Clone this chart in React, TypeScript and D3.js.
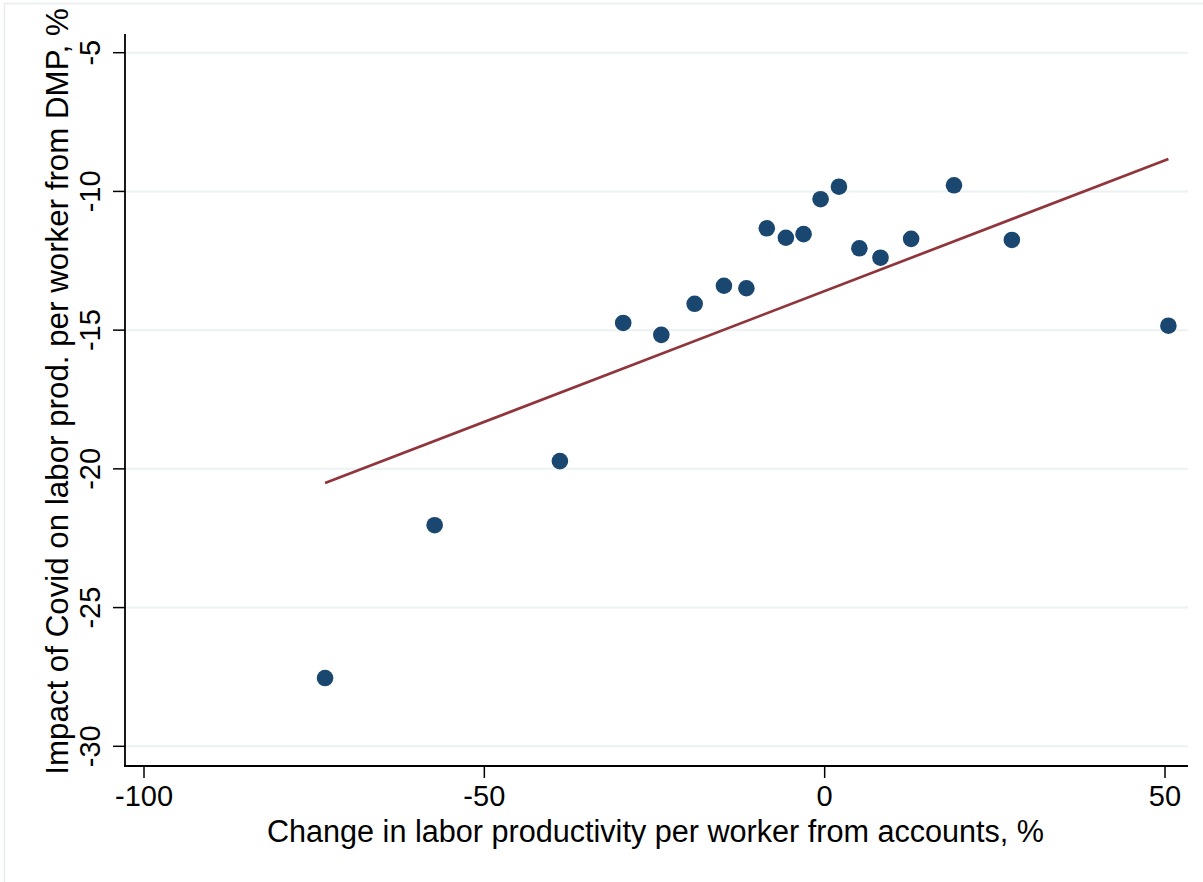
import React from "react";
import * as d3 from "d3";

const xValues = [-73.4, -57.3, -38.9, -29.6, -24.0, -19.1, -14.8, -11.5, -8.5, -5.7, -3.1, -0.6, 2.1, 5.1, 8.2, 12.7, 19.0, 27.5, 50.5];
const yValues = [-27.54, -22.03, -19.72, -14.74, -15.17, -14.05, -13.40, -13.49, -11.33, -11.67, -11.54, -10.28, -9.83, -12.05, -12.39, -11.71, -9.78, -11.75, -14.84];
const fitX = [-73.4, 50.5];
const fitY = [-20.51, -8.83];
const xTicks = [-100, -50, 0, 50];
const yTicks = [-5, -10, -15, -20, -25, -30];
const xTitle = "Change in labor productivity per worker from accounts, %";
const yTitle = "Impact of Covid on labor prod. per worker from DMP, %";

const W = 1203;
const H = 882;
const plotLeft = 125;
const plotRight = 1188;
const plotTop = 34;
const plotBottom = 766;
const font = "'Liberation Sans', Arial, sans-serif";
const fontSize = 29;

export default function App() {
  const x = d3.scaleLinear().domain([-100, 50]).range([144, 1165]);
  const y = d3.scaleLinear().domain([-30, -5]).range([746.3, 52.7]);
  const line = d3
    .line<number>()
    .x((d) => x(d))
    .y((_, i) => y(fitY[i]));

  return (
    <svg
      width={W}
      height={H}
      style={{ position: "absolute", left: 0, top: 0, background: "#fff" }}
      fontFamily={font}
    >
      <rect x={0} y={0} width={W} height={H} fill="#ffffff" />
      <rect x={4.5} y={3.5} width={W + 20} height={H + 20} fill="none" stroke="#e6ecf0" strokeWidth={1.5} />
      {yTicks.map((t) => (
        <line key={"g" + t} x1={plotLeft} x2={plotRight} y1={y(t)} y2={y(t)} stroke="#eaf2f3" strokeWidth={2} />
      ))}
      <path d={line(fitX) || ""} fill="none" stroke="#90353b" strokeWidth={2.7} />
      {xValues.map((v, i) => (
        <circle key={i} cx={x(v)} cy={y(yValues[i])} r={8.3} fill="#1a476f" />
      ))}
      <line x1={plotLeft} x2={plotLeft} y1={plotTop} y2={plotBottom + 1} stroke="#000" strokeWidth={1.8} />
      <line x1={plotLeft - 1} x2={plotRight} y1={plotBottom} y2={plotBottom} stroke="#000" strokeWidth={1.8} />
      {yTicks.map((t) => (
        <g key={"yt" + t}>
          <line x1={plotLeft - 12} x2={plotLeft} y1={y(t)} y2={y(t)} stroke="#000" strokeWidth={1.5} />
          <text
            transform={`translate(100,${y(t)}) rotate(-90)`}
            textAnchor="middle"
            fontSize={fontSize}
            fill="#000"
          >
            {t}
          </text>
        </g>
      ))}
      {xTicks.map((t) => (
        <g key={"xt" + t}>
          <line x1={x(t)} x2={x(t)} y1={plotBottom} y2={plotBottom + 12} stroke="#000" strokeWidth={1.5} />
          <text x={x(t)} y={806} textAnchor="middle" fontSize={fontSize} fill="#000">
            {t}
          </text>
        </g>
      ))}
      <text x={655.5} y={842} textAnchor="middle" fontSize={30.6} fill="#000">
        {xTitle}
      </text>
      <text
        transform={`translate(68,391.5) rotate(-90)`}
        textAnchor="middle"
        fontSize={31.3}
        fill="#000"
      >
        {yTitle}
      </text>
    </svg>
  );
}
